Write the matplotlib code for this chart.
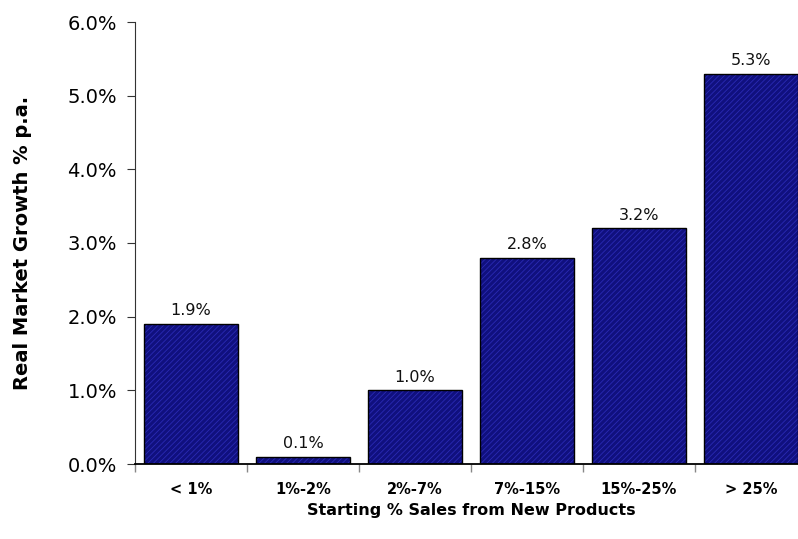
import matplotlib
matplotlib.use("Agg")
import matplotlib.pyplot as plt
from matplotlib.ticker import FuncFormatter, FixedLocator

categories = ["< 1%", "1%-2%", "2%-7%", "7%-15%", "15%-25%", "> 25%"]
growth = [1.9, 0.1, 1.0, 2.8, 3.2, 5.3]
value_labels = ["1.9%", "0.1%", "1.0%", "2.8%", "3.2%", "5.3%"]

plt.rcParams["font.family"] = ["DejaVu Sans"]
plt.rcParams["hatch.linewidth"] = 0.6

fig = plt.figure(figsize=(7.98, 5.39), dpi=100)
ax = fig.add_axes([135 / 798, 75 / 539, 672 / 798, 442 / 539])

x = list(range(len(categories)))
# fill with fine diagonal hatching, then a separate pass for the black outline
ax.bar(x, growth, width=0.84, color="#10107e", edgecolor="#2a2ab4",
       hatch="//////", linewidth=0, zorder=2)
ax.bar(x, growth, width=0.84, fill=False, edgecolor="black",
       linewidth=1.0, zorder=3)

for xi, v, lab in zip(x, growth, value_labels):
    ax.annotate(lab, (xi, v), xytext=(0, 4), textcoords="offset points",
                ha="center", va="bottom", fontsize=11.5, color="#111111")

ax.set_xlim(-0.5, 5.5)
ax.set_ylim(0, 6)
ax.set_yticks([0, 1, 2, 3, 4, 5, 6])
ax.yaxis.set_major_formatter(FuncFormatter(lambda v, p: f"{v:.1f}%"))
ax.tick_params(axis="y", labelsize=14, length=6, width=0.8, pad=7,
               color="#333333")

# boundary ticks between categories, labels at the centres
ax.xaxis.set_major_locator(FixedLocator([i - 0.5 for i in range(len(categories) + 1)]))
ax.xaxis.set_major_formatter(FuncFormatter(lambda v, p: ""))
ax.xaxis.set_minor_locator(FixedLocator(x))
ax.set_xticklabels(categories, minor=True)
ax.tick_params(axis="x", which="major", length=6, width=1, color="#888888")
ax.tick_params(axis="x", which="minor", length=0, pad=13, labelsize=10.5)
for t in ax.get_xticklabels(minor=True):
    t.set_fontweight("bold")

ax.spines["top"].set_visible(False)
ax.spines["right"].set_visible(False)
ax.spines["left"].set_color("#333333")
ax.spines["bottom"].set_linewidth(1.3)

ax.set_xlabel("Starting % Sales from New Products", fontsize=11.5,
              fontweight="bold", labelpad=4)
ax.set_ylabel("Real Market Growth % p.a.", fontsize=14,
              fontweight="bold")
ax.yaxis.set_label_coords(-103 / 672, 0.5)

fig.savefig("out.png", dpi=100)
